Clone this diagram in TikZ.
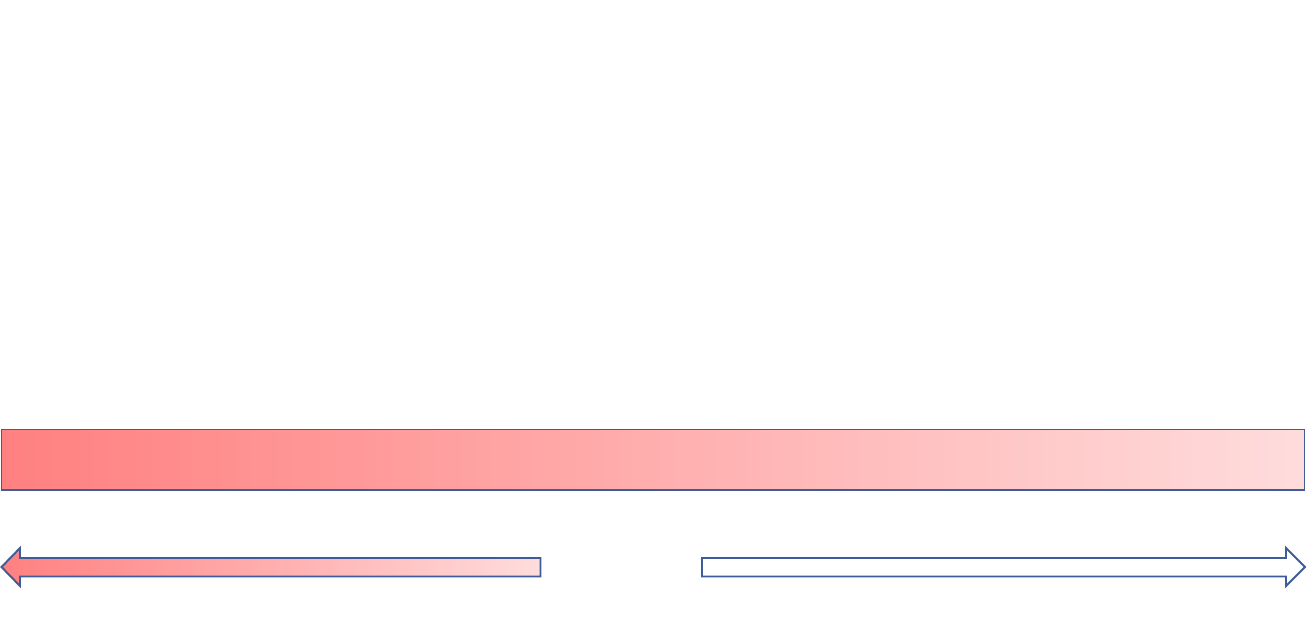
\documentclass[tikz,border=0pt]{standalone}
\usetikzlibrary{shadings}
\definecolor{edgeblue}{RGB}{62,92,152}
\definecolor{warmred}{RGB}{255,128,128}
\definecolor{palered}{RGB}{255,220,220}
\begin{document}
\begin{tikzpicture}[x=0.02cm,y=-0.02cm,line join=miter,
		outline/.style={draw=edgeblue,line width=1.1pt},
		heat/.style={outline,left color=warmred,right color=palered,shading angle=90}]
	\useasboundingbox (0,0) rectangle (1307,637);
	% gradient bar
	\draw[heat] (1.5,429.5) rectangle (1304.5,490);
	% left arrow
	\draw[heat] (1.5,567)--(20,548)--(20,558)--(540.5,558)--(540.5,576.5)--(20,576.5)--(20,586)--cycle;
	% right arrow
	\draw[outline,fill=white] (702,558)--(1286,558)--(1286,548)--(1305,567)--(1286,586)--(1286,576.5)--(702,576.5)--cycle;
\end{tikzpicture}
\end{document}
